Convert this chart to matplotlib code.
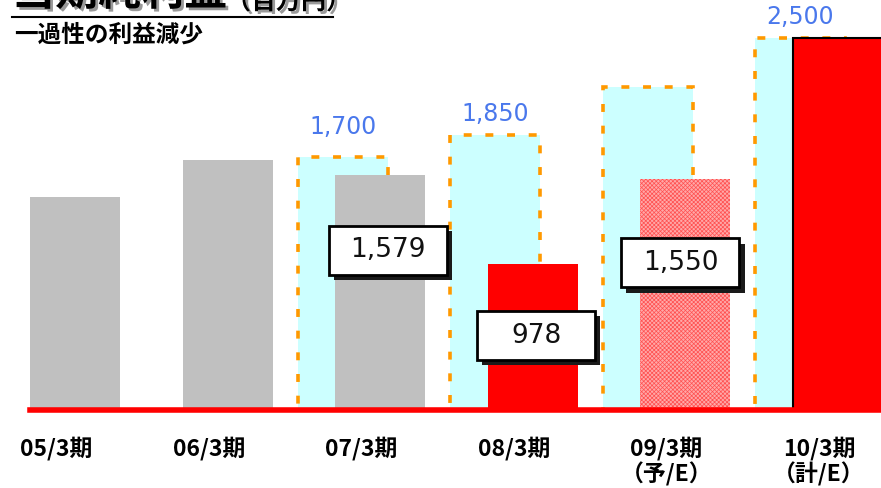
import numpy as np
import matplotlib
matplotlib.use('Agg')
import matplotlib.pyplot as plt
import matplotlib.patheffects as pe
from matplotlib.patches import Rectangle
from matplotlib.lines import Line2D

plt.rcParams['font.family'] = ['Noto Sans CJK JP', 'DejaVu Sans']
plt.rcParams['hatch.linewidth'] = 0.5

# data (net income, million yen)
periods = ['05/3期', '06/3期', '07/3期', '08/3期', '09/3期\n（予/E）', '10/3期\n（計/E）']
actual = [1430, 1680, 1579, 978, 1550, 2500]
plan = [np.nan, np.nan, 1700, 1850, 2170, 2500]
kind = ['past', 'past', 'past', 'down', 'est', 'down']
plan_labels = ['', '', '1,700', '1,850', '', '2,500']
box_labels = ['', '', '1,579', '978', '1,550', '']

# layout stuff
box_y = [0, 0, 1072, 500, 988, 0]
box_dx = [0, 0, 0.054, 0.025, -0.03, 0]
plan_pad = [0, 0, 18, 9, 0, 9]
bw = 0.59
plan_off = -0.243
grp_off = -0.121

fig = plt.figure(figsize=(8.81, 4.88), dpi=100)
ax = fig.add_axes([0, 78/488, 1, 410/488])
x = np.arange(len(periods))

# plan bars (cyan with orange dashed frame)
pb = ax.bar(x + plan_off, plan, bw, color='#CCFFFF', edgecolor='#FF9900',
            linewidth=2.6, zorder=1)
for p in pb:
    p.set_linestyle((0, (2.2, 3.8)))

cols = {'past': '#C0C0C0', 'down': '#FF0000', 'est': '#FFA8A8'}
for i in range(len(x)):
    if kind[i] == 'est':
        # dotted/checkered estimate bar
        ax.bar(x[i], actual[i], bw, color=cols['est'], edgecolor='#FF5050',
               hatch='xxxxxxxx', linewidth=0, zorder=2)
    elif i == len(x) - 1:
        ax.bar(x[i], actual[i], bw, color=cols[kind[i]], edgecolor='black',
               linewidth=1.5, zorder=2)
    else:
        ax.bar(x[i], actual[i], bw, color=cols[kind[i]], linewidth=0, zorder=2)

# plan value labels in blue
for i in range(len(x)):
    if plan_labels[i]:
        ax.annotate(plan_labels[i], (x[i] + plan_off, plan[i]), xytext=(0, plan_pad[i]),
                    textcoords='offset pixels', ha='center', va='bottom',
                    fontsize=17, color='#4A78EC', family='DejaVu Sans', zorder=6)

# boxed labels for actuals with black shadow
w, h = 0.774, 329
for i in range(len(x)):
    if box_labels[i]:
        cx = x[i] + box_dx[i]
        cy = box_y[i]
        ax.add_patch(Rectangle((cx - w/2 + 0.033, cy - h/2 - 34), w, h,
                               facecolor='#1a1a1a', edgecolor='none', zorder=4))
        ax.add_patch(Rectangle((cx - w/2, cy - h/2), w, h, facecolor='white',
                               edgecolor='black', linewidth=2, zorder=5))
        ax.text(cx, cy, box_labels[i], ha='center', va='center', fontsize=19,
                family='DejaVu Sans', color='#111111', zorder=6)

# red baseline
ax.axhline(0, xmin=30/881, xmax=1, color='#FF0000', linewidth=4, zorder=3, clip_on=False)

ax.set_xlim(-0.492, 5.285)
ax.set_ylim(0, 2755)
ax.set_xticks(x + grp_off)
ax.set_xticklabels(periods, fontsize=16.5, fontweight='bold', linespacing=1.08)
ax.tick_params(axis='x', length=0, pad=19)
ax.set_yticks([])
for s in ax.spines.values():
    s.set_visible(False)

# title (top half is outside the picture, as in the original) and subtitle
sh = [pe.SimplePatchShadow(offset=(2, -2), shadow_rgbFace='#999999', alpha=1), pe.Normal()]
fig.text(12/881, 1 - 14/488, '当期純利益', fontsize=31, fontweight='bold',
         va='bottom', path_effects=sh)
fig.text(226/881, 1 - 14/488, '（百万円）', fontsize=18, fontweight='bold',
         va='bottom', path_effects=sh)
fig.add_artist(Line2D([12/881, 333/881], [1 - 17/488, 1 - 17/488],
                      transform=fig.transFigure, color='black', linewidth=1.5))
fig.text(14/881, 1 - 35/488, '一過性の利益減少', fontsize=17, fontweight='bold',
         va='center')

fig.savefig('out.png', dpi=100)
